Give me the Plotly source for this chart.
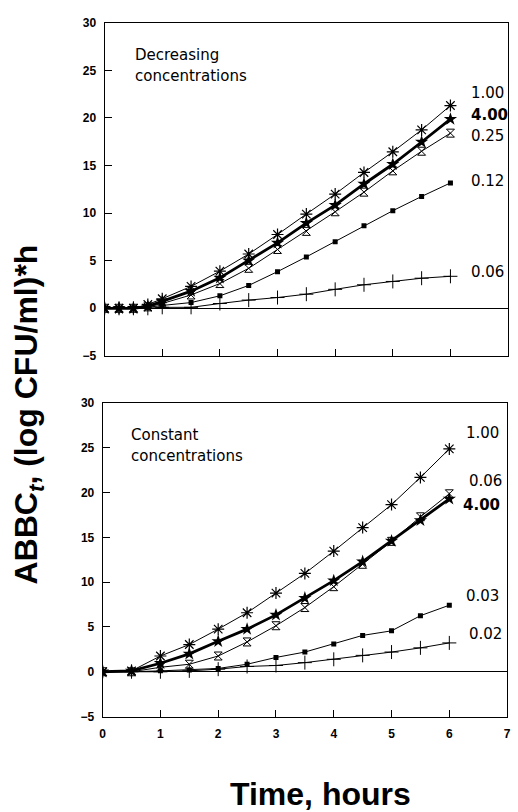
import plotly.graph_objects as go

# ---- data ----
t_top = [0, 0.25, 0.5, 0.75, 1, 1.5, 2, 2.5, 3, 3.5, 4, 4.5, 5, 5.5, 6]
top_100 = [0, 0, 0, 0.4, 1.0, 2.3, 3.9, 5.7, 7.75, 9.9, 12.0, 14.27, 16.44, 18.74, 21.3]
top_400 = [0, 0, 0, 0.2, 0.75, 1.8, 3.2, 5.0, 6.87, 8.94, 10.83, 13.06, 15.13, 17.47, 19.87]
top_025 = [0, 0, 0, 0.15, 0.5, 1.4, 2.6, 4.2, 6.18, 8.08, 10.14, 12.2, 14.44, 16.5, 18.4]
top_012 = [0, 0, 0, 0.1, 0.3, 0.6, 1.31, 2.4, 3.85, 5.4, 7.0, 8.66, 10.25, 11.75, 13.17]
top_006 = [0, 0, 0, 0, 0.1, 0.1, 0.5, 0.86, 1.13, 1.48, 1.99, 2.47, 2.82, 3.16, 3.36]

t_bot = [0, 0.5, 1, 1.5, 2, 2.5, 3, 3.5, 4, 4.5, 5, 5.5, 6]
bot_100 = [0, 0.1, 1.76, 3.04, 4.76, 6.59, 8.78, 10.98, 13.47, 16.1, 18.66, 21.7, 24.88]
bot_400 = [0, 0.1, 0.95, 2.0, 3.4, 4.76, 6.35, 8.23, 10.17, 12.3, 14.6, 16.9, 19.3]
bot_006 = [0, 0, 0.5, 0.84, 1.76, 3.33, 5.14, 7.17, 9.5, 12.0, 14.56, 17.3, 19.87]
bot_003 = [0, 0, 0.1, 0.2, 0.37, 0.84, 1.6, 2.2, 3.11, 4.06, 4.57, 6.26, 7.43]
bot_002 = [0, 0, 0, 0.1, 0.29, 0.59, 0.7, 1.02, 1.39, 1.83, 2.2, 2.67, 3.22]

top_labels = ["1.00", "4.00", "0.25", "0.12", "0.06"]
top_label_y = [22.66, 20.28, 18.1, 13.4, 3.78]
bot_labels = ["1.00", "0.06", "4.00", "0.03", "0.02"]
bot_label_y = [26.7, 21.3, 18.66, 8.45, 4.17]
bot_label_x = [6.26, 6.3, 6.2, 6.25, 6.3]

x_ticks = [0, 1, 2, 3, 4, 5, 6, 7]
y_ticks = [-5, 0, 5, 10, 15, 20, 25, 30]

W, H = 518, 812
BLACK = "black"

styles = {
    "plus": dict(symbol="cross-thin-open", size=10, color=BLACK, line=dict(color=BLACK, width=1)),
    "square": dict(symbol="square", size=5, color=BLACK),
    "hour": dict(symbol="hourglass-open", size=8, color=BLACK, line=dict(color=BLACK, width=1)),
    "ast": dict(symbol="asterisk-open", size=10, color=BLACK, line=dict(color=BLACK, width=1.2)),
    "star": dict(symbol="star", size=10, color=BLACK, line=dict(color=BLACK, width=0)),
}

fig = go.Figure()

def add(x, y, st, lw, xa, ya):
    fig.add_trace(go.Scatter(x=x, y=y, mode="lines+markers",
                             line=dict(color=BLACK, width=lw),
                             marker=styles[st], xaxis=xa, yaxis=ya,
                             showlegend=False, hoverinfo="skip"))

add(t_top, top_006, "plus", 1, "x", "y")
add(t_top, top_012, "square", 1, "x", "y")
add(t_top, top_025, "hour", 1, "x", "y")
add(t_top, top_100, "ast", 1, "x", "y")
add(t_top, top_400, "star", 2.8, "x", "y")

add(t_bot, bot_002, "plus", 1, "x2", "y2")
add(t_bot, bot_003, "square", 1, "x2", "y2")
add(t_bot, bot_006, "hour", 1, "x2", "y2")
add(t_bot, bot_100, "ast", 1, "x2", "y2")
add(t_bot, bot_400, "star", 2.8, "x2", "y2")

tickfont = dict(family="Liberation Sans, Arial, sans-serif", size=12, color=BLACK, weight="bold")

def xax(domain, labels):
    return dict(domain=domain, range=[0, 7], tickvals=x_ticks, showticklabels=labels,
                ticks="inside", ticklen=7, tickcolor=BLACK, tickwidth=1,
                showline=True, linecolor=BLACK, linewidth=1, mirror=True,
                showgrid=False, zeroline=False, tickfont=tickfont,
                ticklabelstandoff=6)

def yax(domain, anchor):
    return dict(domain=domain, range=[-5, 30], tickvals=y_ticks, anchor=anchor,
                ticks="inside", ticklen=7, tickcolor=BLACK, tickwidth=1,
                showline=True, linecolor=BLACK, linewidth=1, mirror=True,
                showgrid=False, zeroline=True, zerolinecolor=BLACK, zerolinewidth=1,
                tickfont=tickfont, ticklabelstandoff=5)

fig.update_layout(
    width=W, height=H,
    margin=dict(l=0, r=0, t=0, b=0),
    paper_bgcolor="white", plot_bgcolor="white",
    xaxis=dict(**xax([103 / W, 512 / W], False), anchor="y"),
    yaxis=yax([1 - 355 / H, 1 - 16 / H], "x"),
    xaxis2=dict(**xax([101 / W, 511 / W], True), anchor="y2"),
    yaxis2=yax([1 - 722 / H, 1 - 403 / H], "x2"),
)

lab_font = dict(family="DejaVu Sans, sans-serif", size=15, color=BLACK)
lab_font_b = dict(family="DejaVu Sans, sans-serif", size=15, color=BLACK, weight="bold")

for txt, yv in zip(top_labels, top_label_y):
    fig.add_annotation(x=6.33, y=yv, xref="x", yref="y", text=txt, showarrow=False,
                       xanchor="left", yanchor="middle",
                       font=lab_font_b if txt == "4.00" else lab_font)
for txt, xv, yv in zip(bot_labels, bot_label_x, bot_label_y):
    fig.add_annotation(x=xv, y=yv, xref="x2", yref="y2", text=txt, showarrow=False,
                       xanchor="left", yanchor="middle",
                       font=lab_font_b if txt == "4.00" else lab_font)

note_font = dict(family="DejaVu Sans, sans-serif", size=15, color=BLACK)
fig.add_annotation(x=0.5, y=26.6, xref="x", yref="y", text="Decreasing", showarrow=False,
                   xanchor="left", yanchor="middle", font=note_font)
fig.add_annotation(x=0.5, y=24.4, xref="x", yref="y", text="concentrations", showarrow=False,
                   xanchor="left", yanchor="middle", font=note_font)
fig.add_annotation(x=0.46, y=26.45, xref="x2", yref="y2", text="Constant", showarrow=False,
                   xanchor="left", yanchor="middle", font=note_font)
fig.add_annotation(x=0.46, y=24.04, xref="x2", yref="y2", text="concentrations", showarrow=False,
                   xanchor="left", yanchor="middle", font=note_font)

title_font = dict(family="Liberation Sans, Arial, sans-serif", size=32, color=BLACK, weight="bold")
fig.add_annotation(x=26 / W, y=1 - 415 / H, xref="paper", yref="paper",
                   text="ABBC<sub><i>t</i></sub>, (log CFU/ml)*h", showarrow=False,
                   textangle=-90, xanchor="center", yanchor="middle", font=title_font)
fig.add_annotation(x=322 / W, y=1 - 801 / H, xref="paper", yref="paper",
                   text="Time, hours", showarrow=False,
                   xanchor="center", yanchor="middle", font=title_font)

fig.write_html("out.html", config={"displayModeBar": False},
               post_script="document.body.style.margin='0px';document.body.style.overflow='hidden';")
